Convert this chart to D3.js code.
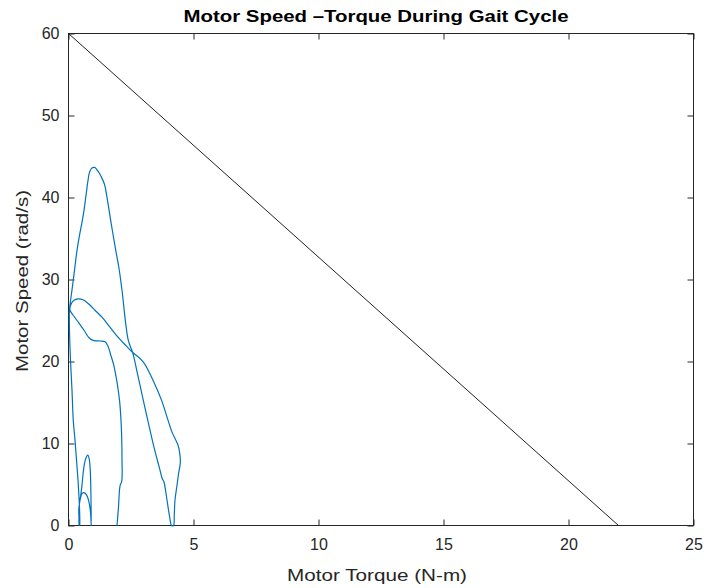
<!DOCTYPE html>
<html><head><meta charset="utf-8">
<script src="https://cdn.jsdelivr.net/npm/d3@7"></script>
<style>body{margin:0;background:#fff}svg{display:block}text{font-family:"Liberation Sans",Arial,sans-serif}</style>
</head><body><svg id="c" width="704" height="588"></svg>
<script>
const xTicks = [0, 5, 10, 15, 20, 25];
const yTicks = [0, 10, 20, 30, 40, 50, 60];
const limitTorque = [0, 22];
const limitSpeed = [60, 0];
// Gait-cycle trajectory (torque N-m, speed rad/s)
const torque = [1.94,2.00,2.06,2.13,2.14,2.13,2.10,2.04,1.94,1.80,1.68,1.58,1.46,1.26,1.02,0.82,0.62,0.42,0.22,0.06,
 0.10,0.22,0.38,0.58,0.82,1.06,1.34,1.66,1.98,2.30,2.56,2.98,3.38,3.72,3.98,4.14,4.38,4.46,4.47,4.40,4.33,4.26,4.23,4.20,
 4.12,4.06,4.00,3.94,3.88,3.82,3.74,3.66,3.50,3.38,3.26,2.99,2.78,2.57,2.39,2.14,2.02,1.89,1.70,1.54,1.44,1.30,1.16,1.04,0.92,0.84,0.78,0.70,0.62,0.54,0.44,0.34,0.26,0.18,0.10,0.04,
 0.04,0.08,0.14,0.19,0.26,0.32,0.38,0.42,0.44,0.46,
 0.41,0.48,0.54,0.60,0.67,0.77,0.83,0.87,0.89,0.90,0.91,
 0.88,0.82,0.76,0.68,0.60,0.53,0.48,0.44,0.42,0.42];
const speed = [0,2.25,4.81,5.42,7.98,10.42,12.85,15.29,17.48,19.67,20.89,21.87,22.41,22.50,22.54,22.90,23.81,24.67,25.52,26.25,
 26.98,27.47,27.64,27.53,26.98,26.25,25.40,24.18,22.96,21.93,21.13,19.98,17.72,15.29,12.85,11.39,9.81,8.59,7.61,6.27,4.69,3.11,1.28,0,
 0,0.79,1.89,3.11,4.32,5.30,5.79,6.76,8.59,10.05,11.63,15.29,18.21,21.05,22.60,28.69,31.37,33.56,36.97,40.02,41.60,42.58,43.30,43.67,43.55,43.06,42.08,40.26,38.43,36.97,35.38,33.56,31.61,29.66,27.83,26.37,
 23.81,20.16,16.50,12.85,10.42,7.98,5.54,3.47,2.13,0,
 1.89,3.47,4.93,6.76,7.98,8.59,8.10,6.76,4.93,3.11,0,
 1.64,2.86,3.47,3.90,4.02,3.84,3.35,2.74,1.64,0];

const svg = d3.select('#c');
const L = 68.5, R = 693.5, T = 33.5, B = 525.5;
const x = d3.scaleLinear().domain([0, 25]).range([L, R]);
const y = d3.scaleLinear().domain([0, 60]).range([B, T]);
const ax = '#262626';

svg.append('rect').attr('x', L).attr('y', T).attr('width', R - L).attr('height', B - T)
  .attr('fill', '#fff').attr('stroke', ax).attr('stroke-width', 1);

function styleAxis(g, labels) {
  g.select('.domain').remove();
  g.selectAll('line').attr('stroke', ax).attr('stroke-width', 1);
  g.selectAll('text').attr('fill', ax).style('font-size', '16px');
  if (!labels) g.selectAll('text').remove();
}
svg.append('g').attr('transform', `translate(0,${B})`)
  .call(d3.axisBottom(x).tickValues(xTicks).tickSizeInner(-6).tickSizeOuter(0).tickPadding(13))
  .call(g => styleAxis(g, true));
svg.append('g').attr('transform', `translate(0,${T})`)
  .call(d3.axisTop(x).tickValues(xTicks).tickSizeInner(-6).tickSizeOuter(0))
  .call(g => styleAxis(g, false));
svg.append('g').attr('transform', `translate(${L},0)`)
  .call(d3.axisLeft(y).tickValues(yTicks).tickSizeInner(-6).tickSizeOuter(0).tickPadding(9))
  .call(g => styleAxis(g, true));
svg.append('g').attr('transform', `translate(${R},0)`)
  .call(d3.axisRight(y).tickValues(yTicks).tickSizeInner(-6).tickSizeOuter(0))
  .call(g => styleAxis(g, false));

svg.append('line')
  .attr('x1', x(limitTorque[0])).attr('y1', y(limitSpeed[0]))
  .attr('x2', x(limitTorque[1])).attr('y2', y(limitSpeed[1]))
  .attr('stroke', '#222').attr('stroke-width', 1);

const pts = torque.map((t, i) => [t, speed[i]]);
svg.append('path').datum(pts)
  .attr('d', d3.line().x(d => x(d[0])).y(d => y(d[1])).curve(d3.curveCatmullRom.alpha(0.5)))
  .attr('fill', 'none').attr('stroke', '#0072BD').attr('stroke-width', 1.2).attr('stroke-linejoin', 'round');

svg.append('text').attr('x', 376).attr('y', 22).attr('text-anchor', 'middle')
  .attr('fill', '#000').style('font-size', '16px').style('font-weight', 'bold')
  .attr('textLength', 385).attr('lengthAdjust', 'spacingAndGlyphs')
  .text('Motor Speed \u2013Torque During Gait Cycle');
svg.append('text').attr('x', 377).attr('y', 581).attr('text-anchor', 'middle')
  .attr('fill', ax).style('font-size', '17px')
  .attr('textLength', 180).attr('lengthAdjust', 'spacingAndGlyphs')
  .text('Motor Torque (N-m)');
svg.append('text').attr('transform', 'translate(28,281) rotate(-90)').attr('text-anchor', 'middle')
  .attr('fill', ax).style('font-size', '17px')
  .attr('textLength', 182).attr('lengthAdjust', 'spacingAndGlyphs')
  .text('Motor Speed (rad/s)');
</script></body></html>
